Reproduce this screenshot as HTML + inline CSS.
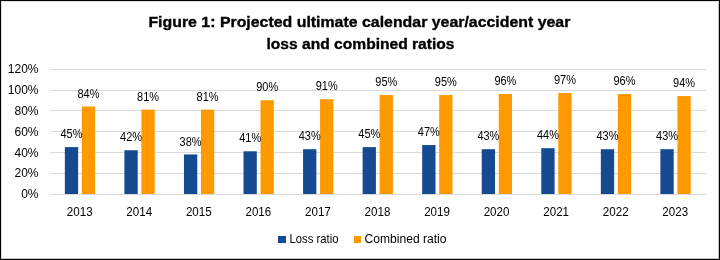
<!DOCTYPE html>
<html><head><meta charset="utf-8"><style>
html,body{margin:0;padding:0;background:#fff;}
body{width:720px;height:260px;overflow:hidden;}
svg{display:block;will-change:transform;}
.t{font-family:"Liberation Sans",sans-serif;font-size:12.0px;fill:#000;}
.h{font-family:"Liberation Sans",sans-serif;font-size:15.5px;font-weight:bold;fill:#000;stroke:#000;stroke-width:0.35px;}
</style></head><body>
<svg width="720" height="260" viewBox="0 0 720 260">
<rect x="0" y="0" width="720" height="260" fill="#fff"/>
<rect x="50" y="69" width="656" height="1" fill="#d9d9d9"/>
<rect x="50" y="90" width="656" height="1" fill="#d9d9d9"/>
<rect x="50" y="110" width="656" height="1" fill="#d9d9d9"/>
<rect x="50" y="131" width="656" height="1" fill="#d9d9d9"/>
<rect x="50" y="152" width="656" height="1" fill="#d9d9d9"/>
<rect x="50" y="173" width="656" height="1" fill="#d9d9d9"/>
<rect x="50" y="194" width="656" height="1" fill="#d9d9d9"/>
<text x="38.5" y="73" text-anchor="end" class="t">120%</text>
<text x="38.5" y="94" text-anchor="end" class="t">100%</text>
<text x="38.5" y="115" text-anchor="end" class="t">80%</text>
<text x="38.5" y="136" text-anchor="end" class="t">60%</text>
<text x="38.5" y="157" text-anchor="end" class="t">40%</text>
<text x="38.5" y="177" text-anchor="end" class="t">20%</text>
<text x="38.5" y="198" text-anchor="end" class="t">0%</text>
<rect x="64.85" y="147.12" width="13.3" height="46.88" fill="#154a91"/>
<rect x="81.85" y="106.50" width="13.3" height="87.50" fill="#ff9900"/>
<rect x="124.41" y="150.25" width="13.3" height="43.75" fill="#154a91"/>
<rect x="141.41" y="109.62" width="13.3" height="84.38" fill="#ff9900"/>
<rect x="183.96" y="154.42" width="13.3" height="39.58" fill="#154a91"/>
<rect x="200.96" y="109.62" width="13.3" height="84.38" fill="#ff9900"/>
<rect x="243.51" y="151.29" width="13.3" height="42.71" fill="#154a91"/>
<rect x="260.51" y="100.25" width="13.3" height="93.75" fill="#ff9900"/>
<rect x="303.07" y="149.21" width="13.3" height="44.79" fill="#154a91"/>
<rect x="320.07" y="99.21" width="13.3" height="94.79" fill="#ff9900"/>
<rect x="362.62" y="147.12" width="13.3" height="46.88" fill="#154a91"/>
<rect x="379.62" y="95.04" width="13.3" height="98.96" fill="#ff9900"/>
<rect x="422.18" y="145.04" width="13.3" height="48.96" fill="#154a91"/>
<rect x="439.18" y="95.04" width="13.3" height="98.96" fill="#ff9900"/>
<rect x="481.73" y="149.21" width="13.3" height="44.79" fill="#154a91"/>
<rect x="498.74" y="94.00" width="13.3" height="100.00" fill="#ff9900"/>
<rect x="541.29" y="148.17" width="13.3" height="45.83" fill="#154a91"/>
<rect x="558.29" y="92.96" width="13.3" height="101.04" fill="#ff9900"/>
<rect x="600.85" y="149.21" width="13.3" height="44.79" fill="#154a91"/>
<rect x="617.85" y="94.00" width="13.3" height="100.00" fill="#ff9900"/>
<rect x="660.40" y="149.21" width="13.3" height="44.79" fill="#154a91"/>
<rect x="677.40" y="96.08" width="13.3" height="97.92" fill="#ff9900"/>
<text x="71.50" y="138.22" text-anchor="middle" class="t" textLength="22" lengthAdjust="spacingAndGlyphs">45%</text>
<text x="88.50" y="97.60" text-anchor="middle" class="t" textLength="22" lengthAdjust="spacingAndGlyphs">84%</text>
<text x="79.70" y="216" text-anchor="middle" class="t" textLength="25.8" lengthAdjust="spacingAndGlyphs">2013</text>
<text x="131.06" y="141.35" text-anchor="middle" class="t" textLength="22" lengthAdjust="spacingAndGlyphs">42%</text>
<text x="148.06" y="100.72" text-anchor="middle" class="t" textLength="22" lengthAdjust="spacingAndGlyphs">81%</text>
<text x="139.25" y="216" text-anchor="middle" class="t" textLength="25.8" lengthAdjust="spacingAndGlyphs">2014</text>
<text x="190.61" y="145.52" text-anchor="middle" class="t" textLength="22" lengthAdjust="spacingAndGlyphs">38%</text>
<text x="207.61" y="100.72" text-anchor="middle" class="t" textLength="22" lengthAdjust="spacingAndGlyphs">81%</text>
<text x="198.81" y="216" text-anchor="middle" class="t" textLength="25.8" lengthAdjust="spacingAndGlyphs">2015</text>
<text x="250.16" y="142.39" text-anchor="middle" class="t" textLength="22" lengthAdjust="spacingAndGlyphs">41%</text>
<text x="267.16" y="91.35" text-anchor="middle" class="t" textLength="22" lengthAdjust="spacingAndGlyphs">90%</text>
<text x="258.36" y="216" text-anchor="middle" class="t" textLength="25.8" lengthAdjust="spacingAndGlyphs">2016</text>
<text x="309.72" y="140.31" text-anchor="middle" class="t" textLength="22" lengthAdjust="spacingAndGlyphs">43%</text>
<text x="326.72" y="90.31" text-anchor="middle" class="t" textLength="22" lengthAdjust="spacingAndGlyphs">91%</text>
<text x="317.92" y="216" text-anchor="middle" class="t" textLength="25.8" lengthAdjust="spacingAndGlyphs">2017</text>
<text x="369.27" y="138.22" text-anchor="middle" class="t" textLength="22" lengthAdjust="spacingAndGlyphs">45%</text>
<text x="386.27" y="86.14" text-anchor="middle" class="t" textLength="22" lengthAdjust="spacingAndGlyphs">95%</text>
<text x="377.47" y="216" text-anchor="middle" class="t" textLength="25.8" lengthAdjust="spacingAndGlyphs">2018</text>
<text x="428.83" y="136.14" text-anchor="middle" class="t" textLength="22" lengthAdjust="spacingAndGlyphs">47%</text>
<text x="445.83" y="86.14" text-anchor="middle" class="t" textLength="22" lengthAdjust="spacingAndGlyphs">95%</text>
<text x="437.03" y="216" text-anchor="middle" class="t" textLength="25.8" lengthAdjust="spacingAndGlyphs">2019</text>
<text x="488.38" y="140.31" text-anchor="middle" class="t" textLength="22" lengthAdjust="spacingAndGlyphs">43%</text>
<text x="505.38" y="85.10" text-anchor="middle" class="t" textLength="22" lengthAdjust="spacingAndGlyphs">96%</text>
<text x="496.58" y="216" text-anchor="middle" class="t" textLength="25.8" lengthAdjust="spacingAndGlyphs">2020</text>
<text x="547.94" y="139.27" text-anchor="middle" class="t" textLength="22" lengthAdjust="spacingAndGlyphs">44%</text>
<text x="564.94" y="84.06" text-anchor="middle" class="t" textLength="22" lengthAdjust="spacingAndGlyphs">97%</text>
<text x="556.14" y="216" text-anchor="middle" class="t" textLength="25.8" lengthAdjust="spacingAndGlyphs">2021</text>
<text x="607.50" y="140.31" text-anchor="middle" class="t" textLength="22" lengthAdjust="spacingAndGlyphs">43%</text>
<text x="624.50" y="85.10" text-anchor="middle" class="t" textLength="22" lengthAdjust="spacingAndGlyphs">96%</text>
<text x="615.70" y="216" text-anchor="middle" class="t" textLength="25.8" lengthAdjust="spacingAndGlyphs">2022</text>
<text x="667.05" y="140.31" text-anchor="middle" class="t" textLength="22" lengthAdjust="spacingAndGlyphs">43%</text>
<text x="684.05" y="87.18" text-anchor="middle" class="t" textLength="22" lengthAdjust="spacingAndGlyphs">94%</text>
<text x="675.25" y="216" text-anchor="middle" class="t" textLength="25.8" lengthAdjust="spacingAndGlyphs">2023</text>
<rect x="278" y="236" width="8" height="7" fill="#154a91"/>
<text x="289.5" y="243" class="t" textLength="49" lengthAdjust="spacingAndGlyphs">Loss ratio</text>
<rect x="354" y="236" width="7" height="7" fill="#ff9900"/>
<text x="364.5" y="243" class="t" textLength="82" lengthAdjust="spacingAndGlyphs">Combined ratio</text>
<text x="148.4" y="26.8" class="h" textLength="422" lengthAdjust="spacingAndGlyphs">Figure 1: Projected ultimate calendar year/accident year</text>
<text x="266.5" y="48.8" class="h" textLength="188" lengthAdjust="spacingAndGlyphs">loss and combined ratios</text>
<rect x="0.5" y="0.5" width="719" height="259" fill="none" stroke="#000" stroke-width="1"/>
<rect x="1" y="1" width="1" height="257" fill="rgba(0,0,0,0.12)"/>
<rect x="2" y="1" width="716" height="1" fill="rgba(0,0,0,0.12)"/>
<rect x="718" y="1" width="1" height="258" fill="rgba(0,0,0,0.22)"/>
<rect x="1" y="258" width="717" height="1" fill="rgba(0,0,0,0.22)"/>
</svg>
</body></html>
